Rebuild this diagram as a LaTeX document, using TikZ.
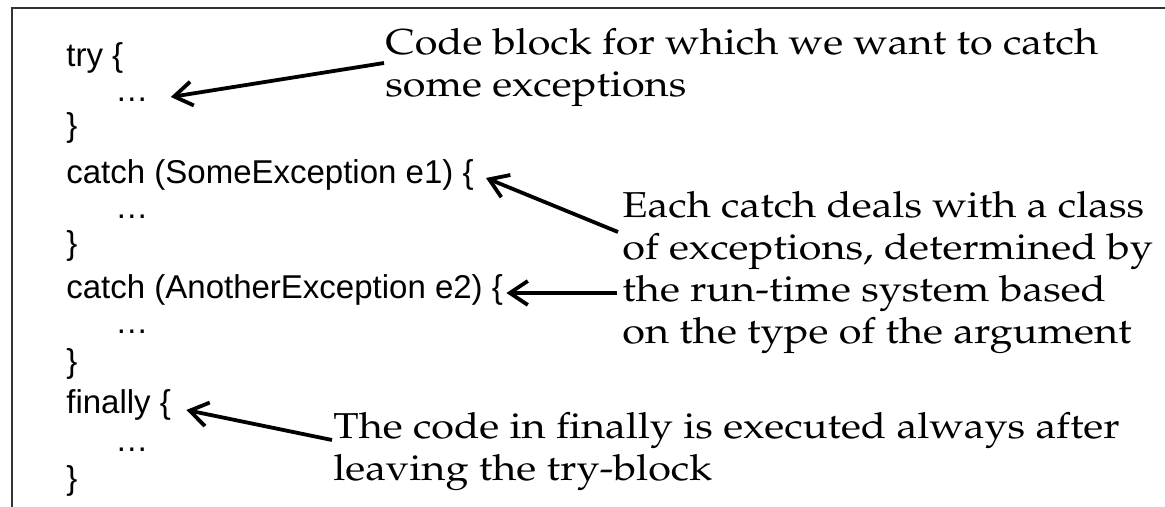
\documentclass[tikz,border=0pt]{standalone}
\usepackage{fontspec}
\usepackage{graphicx}
\usetikzlibrary{arrows.meta}
\newfontfamily\codefont{Liberation Sans}
\newcommand{\notetext}[1]{\scalebox{1.15}[1]{\begin{tabular}[t]{@{}l@{}}#1\end{tabular}}}

\begin{document}
\begin{tikzpicture}[x=0.5pt, y=-0.5pt,
    every node/.style={inner sep=0pt, anchor=base west},
    code/.style={font=\codefont\fontsize{16.5}{20}\selectfont},
    note/.style={font=\fontencoding{T1}\fontfamily{ppl}\fontsize{18}{21}\selectfont},
    arr/.style={line width=1.9pt, -{Straight Barb[length=9pt,width=12pt]}}]
  \useasboundingbox (0,0) rectangle (1165,507);
  \draw[line width=1pt, black!80] (11.5,507) -- (11.5,8.5) -- (1165,8.5);
  % code block
  \node[code] (try) at (66,67) {try \{};
  \node[code] (dots1) at (115,102) {\ldots};
  \node[code] (end1) at (66,137) {\}};
  \node[code] (catch1) at (66,184) {catch (SomeException e1) \{};
  \node[code] (dots2) at (115,219) {\ldots};
  \node[code] (end2) at (66,255) {\}};
  \node[code] (catch2) at (66,299) {catch (AnotherException e2) \{};
  \node[code] (dots3) at (115,334) {\ldots};
  \node[code] (end3) at (66,372) {\}};
  \node[code] (fin) at (66,413) {finally \{};
  \node[code] (dots4) at (115,451) {\ldots};
  \node[code] (end4) at (66,489) {\}};
  % notes
  \node[note] (note1) at (385,55) {\notetext{Code block for which we want to catch\\some exceptions}};
  \node[note] (note2) at (622,218) {\notetext{Each catch deals with a class\\of exceptions, determined by\\the run-time system based\\on the type of the argument}};
  \node[note] (note3) at (333,438) {\notetext{The code in finally is executed always after\\leaving the try-block}};
  \draw[arr] ([shift={(-1,8)}]note1.base west) -- ([shift={(22,-5)}]dots1.base east);
  \draw[arr] ([shift={(-4,14)}]note2.base west) -- ([shift={(12,-6)}]catch1.base east);
  \draw[arr] ([shift={(-5,75)}]note2.base west) -- ([shift={(3,-6)}]catch2.base east);
  \draw[arr] ([shift={(-1,2)}]note3.base west) -- ([shift={(15,-3)}]fin.base east);
\end{tikzpicture}
\end{document}
